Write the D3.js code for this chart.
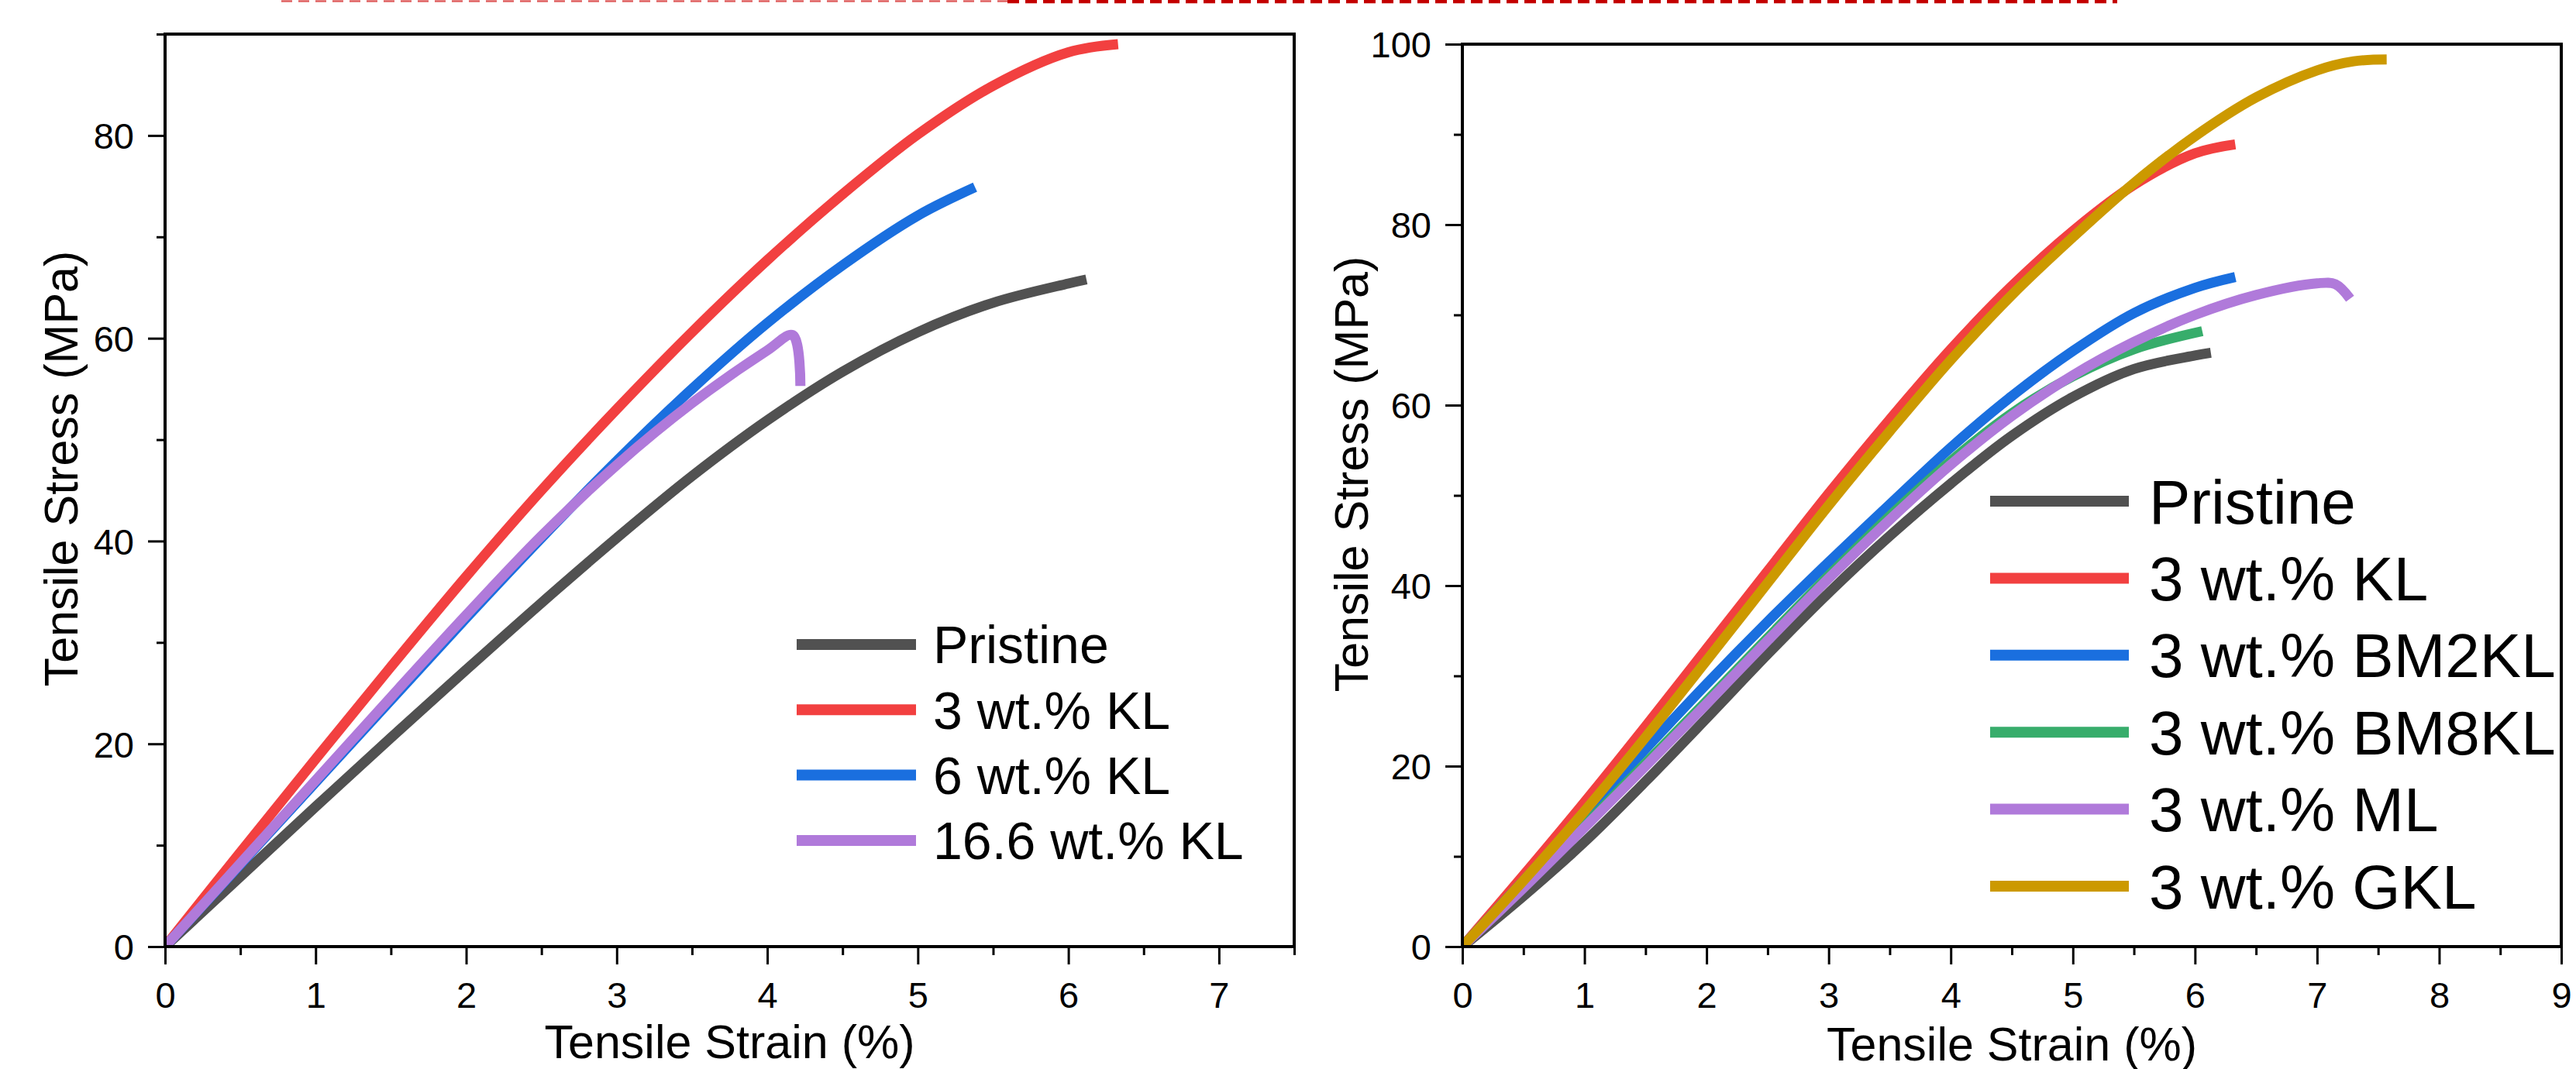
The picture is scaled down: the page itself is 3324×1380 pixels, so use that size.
<!DOCTYPE html>
<html>
<head>
<meta charset="utf-8">
<script src="https://cdn.jsdelivr.net/npm/d3@7"></script>
<style>
  html, body { margin: 0; padding: 0; background: #ffffff; }
  svg { display: block; font-family: "Liberation Sans", Arial, sans-serif; }
</style>
</head>
<body>
<svg id="chart" width="3324" height="1380"></svg>
<script>
// ---------------- DATA ----------------
// Left panel: KL loading series  [strain %, stress MPa]
const leftNames = ["Pristine", "3 wt.% KL", "6 wt.% KL", "16.6 wt.% KL"];
const L_pristine = [[0,0],[0.5,6.9],[1,13.8],[1.5,20.6],[2,27.3],[2.5,33.9],[3,40.3],[3.5,46.4],[4,51.9],[4.5,56.7],[5,60.6],[5.5,63.5],[6,65.4],[6.12,65.8]];
const L_kl3 = [[0,0],[0.5,9.3],[1,18.5],[1.5,27.6],[2,36.5],[2.5,45.0],[3,53.0],[3.5,60.6],[4,67.7],[4.5,74.2],[5,80.1],[5.5,84.9],[6,88.2],[6.33,89]];
const L_kl6 = [[0,0],[0.5,8.1],[1,16.2],[1.5,24.3],[2,32.4],[2.5,40.3],[3,47.9],[3.5,55],[4,61.5],[4.5,67.2],[5,72.1],[5.38,74.9]];
const L_kl166 = [[0,0],[0.5,8.2],[1,16.4],[1.5,24.6],[2,32.7],[2.5,40.5],[3,47.5],[3.5,53.6],[4,58.8],[4.17,60.3],[4.22,55.3]];

// Right panel: modified lignin series
const rightNames = ["Pristine", "3 wt.% KL", "3 wt.% BM2KL", "3 wt.% BM8KL", "3 wt.% ML", "3 wt.% GKL"];
const R_pristine = [[0,0],[0.5,5.6],[1,11.6],[1.5,18.3],[2,25.3],[2.5,32.4],[3,39.2],[3.5,45.5],[4,51.3],[4.5,56.6],[5,60.9],[5.5,64],[6,65.5],[6.13,65.8]];
const R_kl3 = [[0,0],[0.5,7.9],[1,16],[1.5,24.4],[2,33],[2.5,41.6],[3,50.2],[3.5,58.4],[4,66.2],[4.5,73.2],[5,79.3],[5.5,84.4],[6,87.9],[6.33,88.9]];
const R_bm2 = [[0,0],[0.5,7.3],[1,14.6],[1.5,21.9],[2,29.1],[2.5,36],[3,42.6],[3.5,49],[4,55.3],[4.5,61],[5,66],[5.5,70.2],[6,73],[6.33,74.2]];
const R_bm8 = [[0,0],[0.5,6.7],[1,13.4],[1.5,20.3],[2,27.2],[2.5,34.2],[3,41.1],[3.5,47.7],[4,53.8],[4.5,59.1],[5,63.2],[5.5,66.2],[6.06,68.2]];
const R_ml = [[0,0],[0.5,6.5],[1,13.2],[1.5,20],[2,26.9],[2.5,33.9],[3,40.8],[3.5,47.3],[4,53.4],[4.5,58.8],[5,63.3],[5.5,67],[6,70],[6.5,72.2],[7,73.5],[7.15,73.4],[7.27,71.8]];
const R_gkl = [[0,0],[0.5,7.3],[1,15],[1.5,23.2],[2,31.7],[2.5,40.3],[3,48.9],[3.5,57.1],[4,65],[4.5,72.2],[5,78.6],[5.5,84.6],[6,89.8],[6.5,94.1],[7,97.1],[7.3,98.1],[7.57,98.3]];

const leftSeries = [L_pristine, L_kl3, L_kl6, L_kl166];
const rightSeries = [R_pristine, R_kl3, R_bm2, R_bm8, R_ml, R_gkl];

// tick values
const leftXTicks = [0,1,2,3,4,5,6,7];
const leftYTicks = [0,20,40,60,80];
const rightXTicks = [0,1,2,3,4,5,6,7,8,9];
const rightYTicks = [0,20,40,60,80,100];

const xTitle = "Tensile Strain (%)";
const yTitle = "Tensile Stress (MPa)";

// ---------------- STYLE ----------------
const colLeft = ["#515151", "#F24040", "#1A6FDF", "#B07ADA"];
const colRight = ["#515151", "#F24040", "#1A6FDF", "#37AD6B", "#B07ADA", "#CC9900"];

const svg = d3.select("#chart");
svg.append("rect").attr("width", 3324).attr("height", 1380).attr("fill", "#fff");

// top dashed red strip (cropped decoration)
svg.append("line").attr("x1", 363).attr("x2", 1300).attr("y1", 1.5).attr("y2", 1.5)
  .attr("stroke", "#e06060").attr("stroke-width", 2.5).attr("stroke-dasharray", "14,8");
svg.append("line").attr("x1", 1300).attr("x2", 2732).attr("y1", 2).attr("y2", 2)
  .attr("stroke", "#c40000").attr("stroke-width", 4.5).attr("stroke-dasharray", "15,8");

function panel(cfg) {
  const x = d3.scaleLinear().domain(cfg.xDom).range([cfg.left, cfg.right]);
  const y = d3.scaleLinear().domain(cfg.yDom).range([cfg.bottom, cfg.top]);
  const g = svg.append("g");

  // minor ticks
  const xMinor = d3.range(cfg.xDom[0] + 0.5, cfg.xDom[1] + 0.001, 1);
  const yMinor = d3.range(cfg.yDom[0] + 10, cfg.yDom[1] + 0.001, 20);

  const xa = g.append("g").attr("transform", `translate(0,${cfg.bottom})`)
    .call(d3.axisBottom(x).tickValues(cfg.xTicks).tickSize(23).tickFormat(d3.format("d")));
  const xm = g.append("g").attr("transform", `translate(0,${cfg.bottom})`)
    .call(d3.axisBottom(x).tickValues(xMinor).tickSize(11).tickFormat(""));
  const ya = g.append("g").attr("transform", `translate(${cfg.left},0)`)
    .call(d3.axisLeft(y).tickValues(cfg.yTicks).tickSize(22).tickFormat(d3.format("d")));
  const ym = g.append("g").attr("transform", `translate(${cfg.left},0)`)
    .call(d3.axisLeft(y).tickValues(yMinor).tickSize(11).tickFormat(""));

  [xa, xm, ya, ym].forEach(a => {
    a.select(".domain").remove();
    a.selectAll(".tick line").attr("stroke", "#000").attr("stroke-width", 3);
  });
  xa.selectAll(".tick text").attr("y", 79).attr("dy", 0)
    .attr("font-size", 47).attr("fill", "#000").attr("font-family", "Liberation Sans, Arial, sans-serif");
  ya.selectAll(".tick text").attr("x", -40).attr("dy", "0.36em")
    .attr("font-size", 47).attr("fill", "#000").attr("font-family", "Liberation Sans, Arial, sans-serif");

  // curves
  const line = d3.line().x(d => x(d[0])).y(d => y(d[1])).curve(d3.curveCatmullRom.alpha(0.5));
  const clipId = "clip" + cfg.id;
  svg.append("clipPath").attr("id", clipId).append("rect")
    .attr("x", cfg.left).attr("y", cfg.top - 2).attr("width", cfg.right - cfg.left + 2).attr("height", cfg.bottom - cfg.top + 2);
  const cg = g.append("g").attr("clip-path", `url(#${clipId})`);
  cfg.series.forEach((s, i) => {
    cg.append("path").datum(s).attr("d", line)
      .attr("fill", "none").attr("stroke", cfg.colors[i]).attr("stroke-width", 13)
      .attr("stroke-linejoin", "round").attr("stroke-linecap", "butt");
  });

  // frame
  g.append("rect").attr("x", cfg.left).attr("y", cfg.top)
    .attr("width", cfg.right - cfg.left).attr("height", cfg.bottom - cfg.top)
    .attr("fill", "none").attr("stroke", "#000").attr("stroke-width", 4);

  // axis titles
  g.append("text").attr("x", (cfg.left + cfg.right) / 2).attr("y", cfg.xTitleY)
    .attr("text-anchor", "middle").attr("font-size", 61).text(xTitle);
  g.append("text").attr("transform", `translate(${cfg.yTitleX},${cfg.yTitleCY}) rotate(-90)`)
    .attr("text-anchor", "middle").attr("dy", "0.36em").attr("font-size", 61).text(yTitle);

  // legend
  const lg = g.append("g");
  cfg.names.forEach((n, i) => {
    const ly = cfg.legY0 + i * cfg.legStep;
    lg.append("line").attr("x1", cfg.legX1).attr("x2", cfg.legX2).attr("y1", ly).attr("y2", ly)
      .attr("stroke", cfg.colors[i]).attr("stroke-width", 14);
    lg.append("text").attr("x", cfg.legTX).attr("y", ly + 0.358 * cfg.legFS)
      .attr("font-size", cfg.legFS).attr("fill", "#000").text(n);
  });
}

panel({
  id: "L", left: 213, right: 1670, top: 44, bottom: 1222,
  xDom: [0, 7.5], yDom: [0, 90], xTicks: leftXTicks, yTicks: leftYTicks,
  series: leftSeries, colors: colLeft, names: leftNames,
  xTitleY: 1366, yTitleX: 78, yTitleCY: 605,
  legX1: 1028, legX2: 1182, legTX: 1204, legY0: 832, legStep: 84.3, legFS: 68
});

panel({
  id: "R", left: 1887, right: 3305, top: 57, bottom: 1222,
  xDom: [0, 9], yDom: [0, 100], xTicks: rightXTicks, yTicks: rightYTicks,
  series: rightSeries, colors: colRight, names: rightNames,
  xTitleY: 1369, yTitleX: 1743, yTitleCY: 612,
  legX1: 2568, legX2: 2747, legTX: 2773, legY0: 647, legStep: 99.4, legFS: 80
});
</script>
</body>
</html>
